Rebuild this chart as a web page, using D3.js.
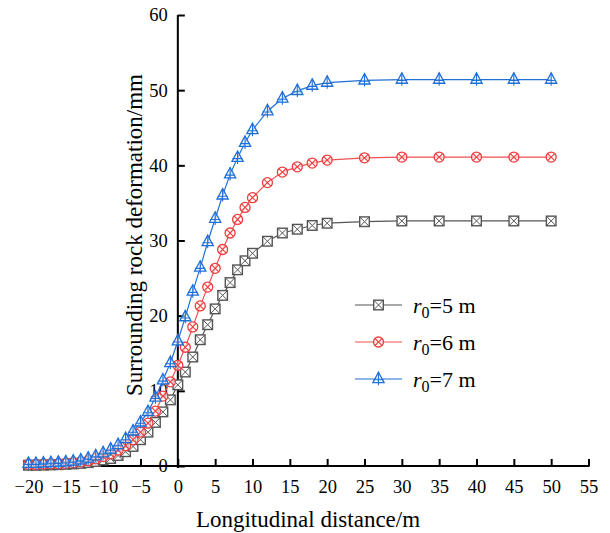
<!DOCTYPE html>
<html>
<head>
<meta charset="utf-8">
<script src="https://cdn.jsdelivr.net/npm/d3@7/dist/d3.min.js"></script>
<style>
  html, body { margin: 0; padding: 0; background: #fff; }
  svg { display: block; }
  text { font-family: "Liberation Serif", "Times New Roman", serif; fill: #000; }
</style>
</head>
<body>
<svg id="chart" width="610" height="533"></svg>
<script>
// ---- data ----
const distances = [-20,-19,-18,-17,-16,-15,-14,-13,-12,-11,-10,-9,-8,-7,-6,-5,-4,-3,-2,-1,0,1,2,3,4,5,6,7,8,9,10,12,14,16,18,20,25,30,35,40,45,50];
const r5 = [0.1,0.1,0.12,0.15,0.18,0.22,0.28,0.35,0.45,0.6,0.8,1.0,1.4,1.9,2.6,3.5,4.5,5.8,7.2,8.8,10.8,12.5,14.5,16.8,18.8,20.9,22.7,24.4,26.1,27.3,28.3,29.9,31.0,31.5,32.0,32.3,32.5,32.6,32.6,32.6,32.6,32.6];
const r6 = [0.2,0.2,0.25,0.28,0.3,0.35,0.45,0.55,0.7,0.95,1.25,1.6,2.1,2.7,3.5,4.5,5.7,7.3,9.3,11.2,13.4,15.8,18.5,21.3,23.8,26.3,28.8,31.0,32.8,34.4,35.7,37.7,39.1,39.8,40.3,40.7,41.0,41.1,41.1,41.1,41.1,41.1];
const r7 = [0.3,0.3,0.35,0.4,0.45,0.5,0.6,0.75,1.0,1.3,1.7,2.2,2.8,3.6,4.6,5.8,7.2,9.1,11.4,13.7,16.6,19.8,23.2,26.4,29.8,32.9,36.0,38.8,41.0,43.0,44.7,47.2,48.9,49.9,50.6,51.0,51.3,51.4,51.4,51.4,51.4,51.4];
const seriesNames = ["5", "6", "7"];
const xTicks = [-20,-15,-10,-5,0,5,10,15,20,25,30,35,40,45,50,55];
const yTicks = [0,10,20,30,40,50,60];

const svg = d3.select("#chart");
const x = d3.scaleLinear().domain([-20, 55]).range([28.5, 588.5]);
const y = d3.scaleLinear().domain([0, 60]).range([466, 15]);

const styles = [
  { line: "#555555", stroke: "#555555", marker: "square" },
  { line: "#f25050", stroke: "#ee3b3b", marker: "circle" },
  { line: "#1f6fd8", stroke: "#1f6fd8", marker: "triangle" }
];
const allSeries = [r5, r6, r7];

// axes
const xAxis = d3.axisBottom(x).tickValues(xTicks).tickSizeInner(-7).tickSizeOuter(0).tickPadding(14).tickFormat(d3.format("d"));
const gx = svg.append("g").attr("transform", "translate(0,466)").call(xAxis);
gx.select(".domain").remove();
gx.selectAll(".tick line").attr("stroke", "#000").attr("stroke-width", 2);
gx.selectAll(".tick text").attr("font-size", 18.5).attr("font-family", "Liberation Serif");

const yAxis = d3.axisLeft(y).tickValues(yTicks).tickSizeInner(-7).tickSizeOuter(0).tickPadding(10).tickFormat(d3.format("d"));
const gy = svg.append("g").attr("transform", `translate(${x(0)},0)`).call(yAxis);
gy.select(".domain").remove();
gy.selectAll(".tick line").attr("stroke", "#000").attr("stroke-width", 2);
gy.selectAll(".tick text").attr("font-size", 18.5).attr("font-family", "Liberation Serif");

svg.append("line").attr("x1", x(-20) - 1).attr("x2", x(55) + 1).attr("y1", y(0)).attr("y2", y(0))
  .attr("stroke", "#000").attr("stroke-width", 2);
svg.append("line").attr("x1", x(0)).attr("x2", x(0)).attr("y1", y(60)).attr("y2", y(0) + 2)
  .attr("stroke", "#000").attr("stroke-width", 2);

// marker drawer
function drawMarker(g, type, color) {
  if (type === "square") {
    const s = 4.8;
    g.append("rect").attr("x", -s).attr("y", -s).attr("width", 2*s).attr("height", 2*s)
      .attr("fill", "#fff").attr("stroke", color).attr("stroke-width", 1.4);
    g.append("path").attr("d", `M${-s},${-s}L${s},${s}M${s},${-s}L${-s},${s}`)
      .attr("stroke", color).attr("stroke-width", 1.0).attr("fill", "none");
  } else if (type === "circle") {
    const r = 5;
    const d = r * Math.SQRT1_2;
    g.append("circle").attr("r", r).attr("fill", "#fff").attr("fill-opacity", 0.6).attr("stroke", color).attr("stroke-width", 1.3);
    g.append("path").attr("d", `M${-d},${-d}L${d},${d}M${d},${-d}L${-d},${d}`)
      .attr("stroke", color).attr("stroke-width", 1.1).attr("fill", "none");
  } else {
    const w = 5.6, top = -6.8, base = 3.6;
    g.append("path").attr("d", `M0,${top}L${w},${base}L${-w},${base}Z`)
      .attr("fill", "#fff").attr("fill-opacity", 0.5).attr("stroke", color).attr("stroke-width", 1.3);
    g.append("path").attr("d", `M0,${top}L0,${base + 2.6}M${-5},0.8L${5},0.8`)
      .attr("stroke", color).attr("stroke-width", 1.1).attr("fill", "none");
  }
}

const line = d3.line().x(d => x(d[0])).y(d => y(d[1]));

allSeries.forEach((vals, i) => {
  const st = styles[i];
  const pts = distances.map((dv, j) => [dv, vals[j]]);
  const g = svg.append("g");
  g.append("path").datum(pts).attr("d", line).attr("fill", "none")
    .attr("stroke", st.line).attr("stroke-width", 1.2);
  pts.forEach(p => {
    const m = g.append("g").attr("transform", `translate(${x(p[0])},${y(p[1])})`);
    drawMarker(m, st.marker, st.stroke);
  });
});

// legend
const legendY = [305, 342, 379];
seriesNames.forEach((n, i) => {
  const st = styles[i];
  const g = svg.append("g").attr("transform", `translate(0,${legendY[i]})`);
  g.append("line").attr("x1", 355).attr("x2", 402).attr("y1", 0).attr("y2", 0)
    .attr("stroke", st.line).attr("stroke-width", 1.2);
  const m = g.append("g").attr("transform", "translate(378.5,0)");
  drawMarker(m, st.marker, st.stroke);
  const t = g.append("text").attr("x", 413).attr("y", 8).attr("font-size", 22);
  t.append("tspan").attr("font-style", "italic").text("r");
  t.append("tspan").attr("font-size", 16).attr("dy", 5).text("0");
  t.append("tspan").attr("dy", -5).text("=" + n + " m");
});

// titles
svg.append("text").attr("x", 308).attr("y", 527).attr("text-anchor", "middle")
  .attr("font-size", 23).text("Longitudinal distance/m");
svg.append("text").attr("transform", "translate(142,235) rotate(-90)").attr("text-anchor", "middle")
  .attr("font-size", 23).text("Surrounding rock deformation/mm");
</script>
</body>
</html>
